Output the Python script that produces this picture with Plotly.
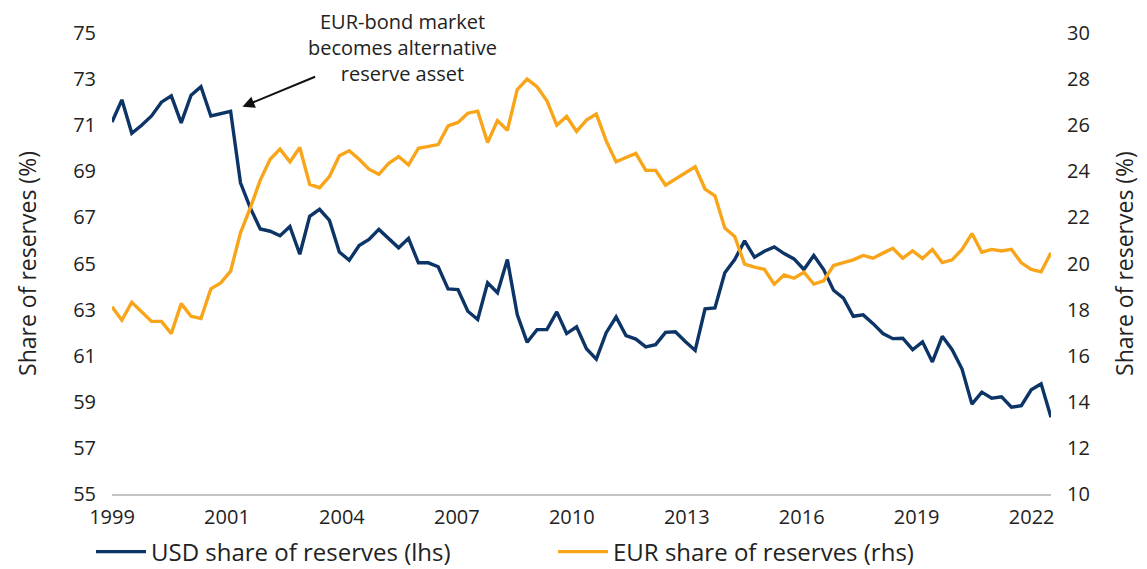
import plotly.graph_objects as go

usd_share = [71.14, 72.1, 70.65, 71.0, 71.4, 72.0, 72.27, 71.1, 72.3, 72.67,
             71.4, 71.5, 71.6, 68.5, 67.4, 66.5, 66.4, 66.2, 66.6, 65.4,
             67.05, 67.35, 66.87, 65.5, 65.14, 65.78, 66.04, 66.48, 66.1, 65.68,
             66.09, 65.03, 65.03, 64.86, 63.9, 63.87, 62.93, 62.57, 64.16, 63.73,
             65.17, 62.78, 61.58, 62.13, 62.13, 62.9, 61.96, 62.25, 61.3, 60.85,
             62.0, 62.68, 61.87, 61.72, 61.38, 61.48, 62.01, 62.04, 61.62, 61.23,
             63.03, 63.07, 64.6, 65.17, 65.98, 65.27, 65.53, 65.72, 65.43, 65.2,
             64.74, 65.35, 64.74, 63.84, 63.5, 62.71, 62.77, 62.39, 61.96, 61.74,
             61.76, 61.26, 61.6, 60.73, 61.84, 61.26, 60.42, 58.9, 59.42, 59.16,
             59.22, 58.77, 58.83, 59.52, 59.78, 58.33]

eur_share = [18.12, 17.54, 18.32, 17.88, 17.49, 17.49, 16.96, 18.26, 17.71, 17.61,
             18.9, 19.16, 19.67, 21.33, 22.42, 23.62, 24.52, 24.96, 24.41, 25.03,
             23.43, 23.29, 23.77, 24.67, 24.89, 24.52, 24.09, 23.87, 24.35, 24.64,
             24.28, 25.0, 25.07, 25.16, 25.97, 26.12, 26.52, 26.61, 25.25, 26.2,
             25.78, 27.54, 28.0, 27.67, 27.06, 26.0, 26.38, 25.73, 26.22, 26.48,
             25.32, 24.41, 24.6, 24.78, 24.04, 24.04, 23.4, 23.68, 23.94, 24.2,
             23.23, 22.94, 21.54, 21.17, 19.97, 19.84, 19.75, 19.1, 19.5, 19.36,
             19.62, 19.11, 19.25, 19.91, 20.04, 20.16, 20.35, 20.23, 20.45, 20.66,
             20.23, 20.55, 20.22, 20.61, 20.04, 20.16, 20.61, 21.3, 20.49, 20.61,
             20.54, 20.61, 20.03, 19.74, 19.64, 20.47]

year_labels = ["1999", "2001", "2004", "2007", "2010", "2013", "2016", "2019", "2022"]
note_text = "EUR-bond market<br>becomes alternative<br>reserve asset"

n = len(usd_share)
x = list(range(n))
label_step = 11.63
tickvals = [k * label_step for k in range(len(year_labels))]

FONT = "Open Sans"
NAVY = "#0c3466"
ORANGE = "#f9a51a"
TXT = "#222222"

# page body has an 8px margin: figure is sized/offset to compensate
W, H = 1139, 561
L, T, R, B = 104, 25, 96, 75
plot_h = H - T - B
plot_w = W - L - R

fig = go.Figure()
fig.add_trace(go.Scatter(x=x, y=usd_share, mode="lines", name="USD share of reserves (lhs)",
                         line=dict(color=NAVY, width=3.4), yaxis="y"))
fig.add_trace(go.Scatter(x=x, y=eur_share, mode="lines", name="EUR share of reserves (rhs)",
                         line=dict(color=ORANGE, width=3.4), yaxis="y2"))

fig.update_layout(
    width=W, height=H,
    margin=dict(l=L, r=R, t=T, b=B, autoexpand=False),
    paper_bgcolor="white", plot_bgcolor="white",
    font=dict(family=FONT, size=20, color=TXT),
    showlegend=True,
    legend=dict(orientation="h", x=-21 / plot_w, xanchor="left", y=-58 / plot_h, yanchor="middle",
                entrywidth=397, entrywidthmode="pixels", font=dict(size=24),
                bgcolor="rgba(0,0,0,0)", itemwidth=50, traceorder="normal"),
    xaxis=dict(range=[0, n - 1], tickvals=tickvals, ticktext=year_labels,
               showgrid=False, zeroline=False, showline=True, linecolor="#c4c4c4",
               linewidth=1.5, ticks="", ticklabelstandoff=4, tickfont=dict(size=20),
               automargin=False),
    yaxis=dict(range=[55, 75], dtick=2, tick0=55, showgrid=False, zeroline=False,
               showline=False, ticks="", ticklabelstandoff=15, tickfont=dict(size=20),
               automargin=False,
               title=dict(text="Share of reserves (%)", font=dict(size=23), standoff=30)),
    yaxis2=dict(range=[10, 30], dtick=2, tick0=10, overlaying="y", side="right",
                showgrid=False, zeroline=False, showline=False, ticks="",
                ticklabelstandoff=15, tickfont=dict(size=20), automargin=False,
                title=dict(text="Share of reserves (%)", font=dict(size=23), standoff=27)),
)

fig.add_annotation(text=note_text, xref="x", yref="paper", x=29.4,
                   y=(486 - 40) / plot_h, showarrow=False,
                   xanchor="center", yanchor="middle", font=dict(size=20, color=TXT))
fig.add_annotation(text="", xref="x", yref="y", x=13.2, y=71.8,
                   axref="x", ayref="y", ax=20.7, ay=73.13,
                   showarrow=True, arrowhead=2, arrowsize=1.2, arrowwidth=2,
                   arrowcolor="#111111", standoff=0)

fig.write_html("out.html")
